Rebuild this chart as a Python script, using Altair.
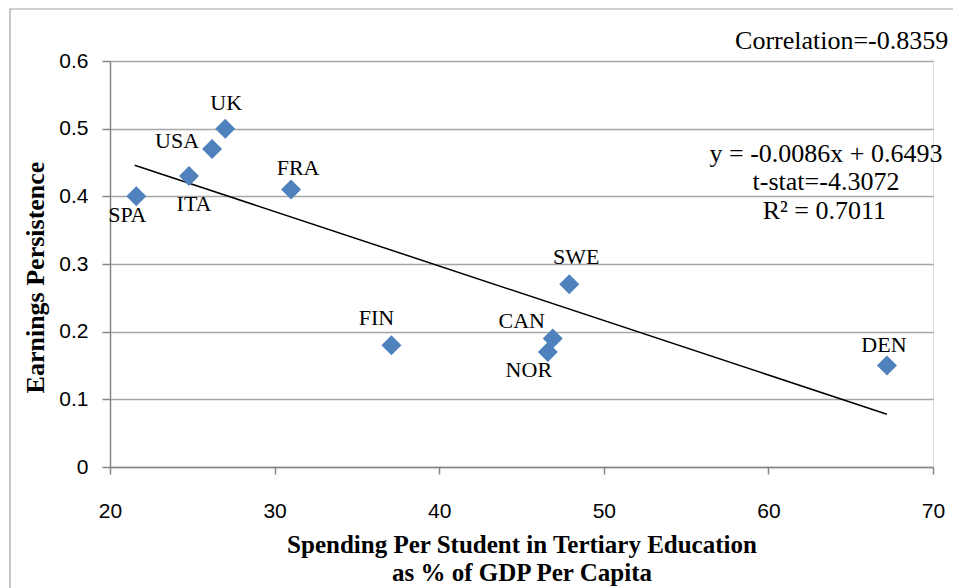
import altair as alt
import pandas as pd

countries = ["SPA", "ITA", "USA", "UK", "FRA", "FIN", "NOR", "CAN", "SWE", "DEN"]
spending = [21.6, 24.8, 26.2, 27.0, 31.0, 37.1, 46.6, 46.9, 47.9, 67.2]
persistence = [0.40, 0.43, 0.47, 0.50, 0.41, 0.18, 0.17, 0.19, 0.27, 0.15]

trend_x = [21.5, 67.2]
trend_y = [0.446, 0.078]

x_ticks = [20, 30, 40, 50, 60, 70]
y_ticks = [0, 0.1, 0.2, 0.3, 0.4, 0.5, 0.6]

df = pd.DataFrame({"country": countries, "x": spending, "y": persistence})
trend = pd.DataFrame({"x": trend_x, "y": trend_y})

SERIF = "Liberation Serif"
SANS = "Liberation Sans"

xscale = alt.Scale(domain=[20, 70], nice=False, zero=False)
yscale = alt.Scale(domain=[0, 0.6], nice=False)

xenc = alt.X("x:Q", scale=xscale, axis=alt.Axis(
    values=x_ticks, grid=False, labelFlush=False,
    title=["Spending Per Student in Tertiary Education", "as % of GDP Per Capita"],
    labelFont=SANS, labelFontSize=21, labelColor="black", labelPadding=26,
    tickSize=7, tickColor="#868686", domainColor="#868686", domainWidth=1.5, tickWidth=1.5,
    titleFont=SERIF, titleFontSize=25, titleFontWeight="bold", titleColor="black",
    titleBaseline="alphabetic", titleY=85, titleLineHeight=28))
yenc = alt.Y("y:Q", scale=yscale, axis=alt.Axis(
    values=y_ticks, grid=True, gridColor="#A6A6A6", gridWidth=1.5, format=".1~f",
    labelFlush=False, title="Earnings Persistence",
    labelFont=SANS, labelFontSize=21, labelColor="black", labelPadding=14,
    tickSize=8, tickColor="#868686", domainColor="#868686", domainWidth=1.5, tickWidth=1.5,
    titleFont=SERIF, titleFontSize=26, titleFontWeight="bold", titleColor="black",
    titleX=-75, titleY=216, titleBaseline="middle", titleAlign="center", titleAngle=270))

border = alt.Chart(pd.DataFrame({"a": [0]})).mark_rect(
    fill=None, stroke="#A0A0A0", strokeWidth=1.2).encode(
    x=alt.value(-100), x2=alt.value(862), y=alt.value(-52), y2=alt.value(560))

points = alt.Chart(df).mark_point(
    shape="diamond", filled=True, color="#4F81BD", size=400, opacity=1).encode(x=xenc, y=yenc)

line = alt.Chart(trend).mark_line(color="black", strokeWidth=1.5).encode(
    x=alt.X("x:Q", scale=xscale), y=alt.Y("y:Q", scale=yscale))

offsets = {
    "SPA": (-9, 19), "ITA": (5, 28), "USA": (-35, -8), "UK": (1, -26), "FRA": (7, -22),
    "FIN": (-15, -27), "NOR": (-19, 18), "CAN": (-31, -17), "SWE": (7, -27), "DEN": (-3, -21),
}
label_layers = []
for c, (dx, dy) in offsets.items():
    label_layers.append(
        alt.Chart(df).transform_filter(alt.datum.country == c).mark_text(
            font=SERIF, fontSize=22, color="black", dx=dx, dy=dy).encode(
            x=alt.X("x:Q", scale=xscale), y=alt.Y("y:Q", scale=yscale), text="country:N"))

def note(txt, xv, yv):
    return alt.Chart(pd.DataFrame({"t": [txt]})).mark_text(
        font=SERIF, fontSize=26, color="black").encode(
        x=alt.datum(xv, scale=xscale), y=alt.datum(yv, scale=yscale), text="t:N")

notes = [
    note("Correlation=-0.8359", 64.45, 0.629),
    note("y = -0.0086x + 0.6493", 63.5, 0.462),
    note("t-stat=-4.3072", 63.5, 0.421),
    note("R² = 0.7011", 63.4, 0.379),
]

chart = alt.layer(border, line, points, *label_layers, *notes).properties(
    width=823, height=406,
    autosize=alt.AutoSizeParams(type="none"),
    padding={"left": 102, "top": 53, "right": 20, "bottom": 124},
).configure_view(stroke=None).configure(background="white")

chart.save("out.html", embed_options={"renderer": "svg", "actions": False})
